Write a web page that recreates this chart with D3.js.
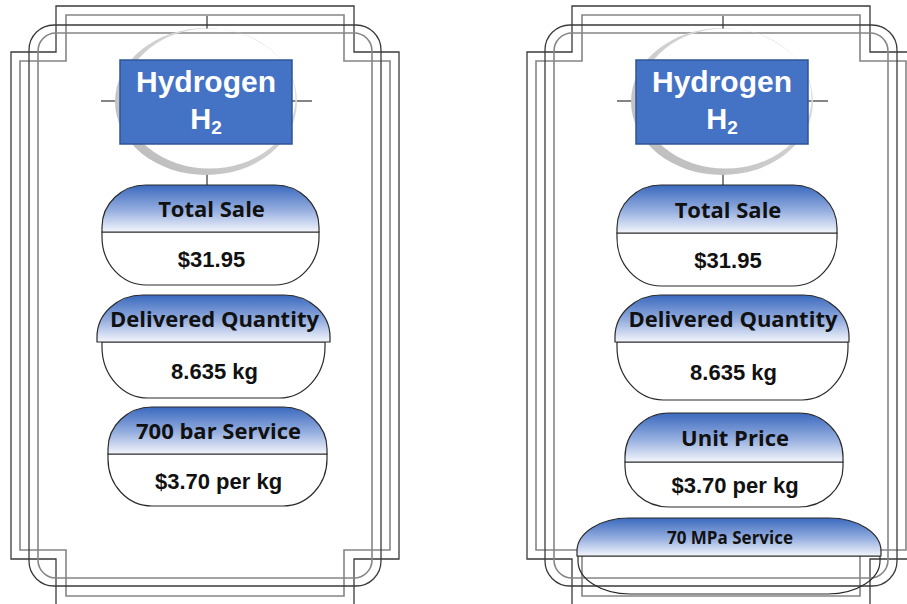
<!DOCTYPE html>
<html>
<head>
<meta charset="utf-8">
<script src="https://cdn.jsdelivr.net/npm/d3@7"></script>
<style>
  body { margin: 0; background: #fff; }
  svg { display: block; }
</style>
</head>
<body>
<div id="chart"></div>
<script>
// Display contents for the two dispenser screens
const panels = ["700 bar", "70 MPa"];
const titleWord = "Hydrogen";
const formula = ["H", "2"];
const leftLabels = ["Total Sale", "Delivered Quantity", "700 bar Service"];
const leftValues = ["$31.95", "8.635 kg", "$3.70 per kg"];
const rightLabels = ["Total Sale", "Delivered Quantity", "Unit Price", "70 MPa Service"];
const rightValues = ["$31.95", "8.635 kg", "$3.70 per kg", ""];

const width = 907, height = 604;

const svg = d3.select("#chart").append("svg")
    .attr("width", width)
    .attr("height", height);

const defs = svg.append("defs");
const grad = defs.append("linearGradient")
    .attr("id", "pillGrad")
    .attr("x1", 0).attr("y1", 0).attr("x2", 0).attr("y2", 1);
grad.append("stop").attr("offset", "0%").attr("stop-color", "#3a69be");
grad.append("stop").attr("offset", "55%").attr("stop-color", "#98b0e0");
grad.append("stop").attr("offset", "100%").attr("stop-color", "#f4f6fb");

const ringGrad = defs.append("linearGradient")
    .attr("id", "ringGrad")
    .attr("x1", 0).attr("y1", 1).attr("x2", 1).attr("y2", 0);
ringGrad.append("stop").attr("offset", "0%").attr("stop-color", "#b9b9b9");
ringGrad.append("stop").attr("offset", "100%").attr("stop-color", "#e4e4e4");

// horizontal offset of each panel
const panelX = d3.scalePoint().domain(panels).range([0, 516]);

// pill geometry (local to a panel): top, divider, bottom, x-extent of the two halves
const pillLayout = {
  "700 bar": [
    {t: 185, m: 232, b: 285, top: [102, 319], bot: [102, 319], rx: 44, fs: 22},
    {t: 295, m: 342, b: 398, top: [97, 330], bot: [102, 325], rx: 46, fs: 22},
    {t: 407, m: 454, b: 506, top: [108, 327], bot: [108, 327], rx: 44, fs: 22}
  ],
  "70 MPa": [
    {t: 185, m: 233, b: 286, top: [101, 321], bot: [101, 321], rx: 44, fs: 22},
    {t: 295, m: 342, b: 400, top: [99, 333], bot: [101, 332], rx: 46, fs: 22},
    {t: 413, m: 462, b: 507, top: [109, 327], bot: [109, 327], rx: 44, fs: 22},
    {t: 518, m: 556, b: 594, top: [61, 365], bot: [62, 364], rx: 52, fs: 17}
  ]
};
const labelsOf = {"700 bar": leftLabels, "70 MPa": rightLabels};
const valuesOf = {"700 bar": leftValues, "70 MPa": rightValues};

function topHalf(x0, x1, t, m, rx) {
  const ry = m - t - 5;
  return `M${x0},${m} L${x0},${t + ry} A${rx},${ry} 0 0 1 ${x0 + rx},${t}
          L${x1 - rx},${t} A${rx},${ry} 0 0 1 ${x1},${t + ry} L${x1},${m} Z`;
}
function bottomHalf(x0, x1, m, b, rx) {
  const ry = b - m - 5;
  return `M${x0},${m} L${x1},${m} L${x1},${b - ry} A${rx},${ry} 0 0 1 ${x1 - rx},${b}
          L${x0 + rx},${b} A${rx},${ry} 0 0 1 ${x0},${b - ry} Z`;
}
function notched(cx, half, notchHalf, y0, y1, inset) {
  return `M${cx - notchHalf},${y0} L${cx + notchHalf},${y0} L${cx + notchHalf},${y0 + inset}
          L${cx + half},${y0 + inset} L${cx + half},${y1 - inset} L${cx + notchHalf},${y1 - inset}
          L${cx + notchHalf},${y1} L${cx - notchHalf},${y1} L${cx - notchHalf},${y1 - inset}
          L${cx - half},${y1 - inset} L${cx - half},${y0 + inset} L${cx - notchHalf},${y0 + inset} Z`;
}

panels.forEach(p => {
  const g = svg.append("g").attr("transform", `translate(${panelX(p)},0)`);
  const cx = 205;

  // frame
  const frame = g.append("g").attr("fill", "none");
  frame.append("path").attr("d", notched(cx, 194, 149, 6, 605, 46))
      .attr("stroke", "#3a3a3a").attr("stroke-width", 1.3);
  frame.append("path").attr("d", notched(cx, 185, 139, 15, 596, 46))
      .attr("stroke", "#858585").attr("stroke-width", 1.6);
  frame.append("rect").attr("x", cx - 176).attr("y", 25).attr("width", 352).attr("height", 561)
      .attr("rx", 25).attr("stroke", "#3a3a3a").attr("stroke-width", 1.3);
  frame.append("rect").attr("x", cx - 167).attr("y", 33).attr("width", 334).attr("height", 545)
      .attr("rx", 18).attr("stroke", "#858585").attr("stroke-width", 1.6);

  // crosshair ticks
  const ticks = g.append("g").attr("stroke", "#333").attr("stroke-width", 1.2);
  [[207, 16, 207, 29], [207, 173, 207, 186], [101, 101, 121, 101], [292, 101, 312, 101]]
    .forEach(s => ticks.append("line")
      .attr("x1", s[0]).attr("y1", s[1]).attr("x2", s[2]).attr("y2", s[3]));

  // crescent ring
  const ell = (x, y, rx, ry) =>
    `M${x - rx},${y} A${rx},${ry} 0 1 0 ${x + rx},${y} A${rx},${ry} 0 1 0 ${x - rx},${y} Z`;
  g.append("path")
      .attr("d", ell(206, 101.5, 91, 73.5) + ell(209.5, 98.5, 86, 70))
      .attr("fill", "url(#ringGrad)")
      .attr("fill-rule", "evenodd");

  // title box
  g.append("rect").attr("x", 120).attr("y", 60).attr("width", 172).attr("height", 84)
      .attr("fill", "#4472c4").attr("stroke", "#2f5597").attr("stroke-width", 1.5);
  g.append("text").attr("x", 206).attr("y", 92)
      .attr("text-anchor", "middle")
      .attr("font-family", "'Liberation Sans', Arial, sans-serif")
      .attr("font-weight", "bold").attr("font-size", 30).attr("fill", "#fff")
      .text(titleWord);
  const h2 = g.append("text").attr("x", 206).attr("y", 129)
      .attr("text-anchor", "middle")
      .attr("font-family", "'Liberation Sans', Arial, sans-serif")
      .attr("font-weight", "bold").attr("font-size", 29).attr("fill", "#fff");
  h2.append("tspan").text(formula[0]);
  h2.append("tspan").attr("font-size", 19).attr("dy", 5).text(formula[1]);

  // pills
  const pills = g.selectAll("g.pill")
    .data(pillLayout[p].map((d, i) => ({...d, label: labelsOf[p][i], value: valuesOf[p][i]})))
    .join("g").attr("class", "pill");

  pills.append("path")
      .attr("d", d => bottomHalf(d.bot[0], d.bot[1], d.m, d.b, d.rx))
      .attr("fill", "none").attr("stroke", "#2a2a2a").attr("stroke-width", 1.2);
  pills.append("path")
      .attr("d", d => topHalf(d.top[0], d.top[1], d.t, d.m, d.rx))
      .attr("fill", "url(#pillGrad)").attr("stroke", "#2a2a2a").attr("stroke-width", 1.2);

  pills.append("text")
      .attr("x", d => (d.top[0] + d.top[1]) / 2 + 1)
      .attr("y", d => (d.t + d.m) / 2 + 1 + d.fs * 0.357)
      .attr("text-anchor", "middle")
      .attr("font-family", "'Open Sans', sans-serif")
      .attr("font-weight", 700).attr("font-size", d => d.fs).attr("fill", "#111")
      .text(d => d.label);
  pills.append("text")
      .attr("x", d => (d.bot[0] + d.bot[1]) / 2 + 1)
      .attr("y", d => (d.m + d.b) / 2 + 1 + 22 * 0.358)
      .attr("text-anchor", "middle")
      .attr("font-family", "'Liberation Sans', Arial, sans-serif")
      .attr("font-weight", "bold").attr("font-size", 22).attr("fill", "#111")
      .text(d => d.value);
});
</script>
</body>
</html>
